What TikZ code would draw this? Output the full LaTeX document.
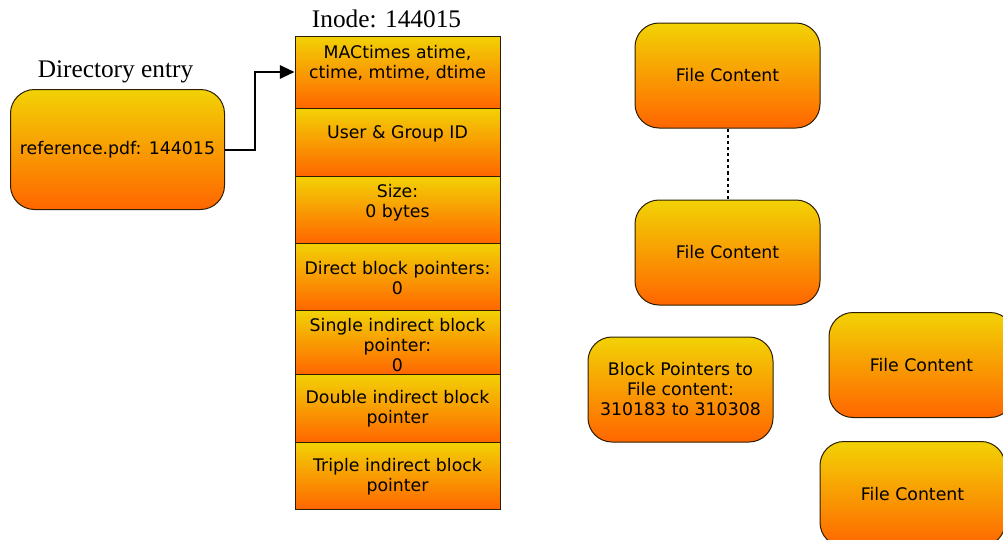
\documentclass[tikz,border=0pt]{standalone}
\usepackage{fontspec}
\setmainfont{DejaVu Sans}
\newfontfamily\serfam{Liberation Serif}
\usetikzlibrary{arrows.meta}
\definecolor{gtop}{RGB}{242,210,5}
\definecolor{gbot}{RGB}{255,102,0}
\definecolor{edgec}{RGB}{45,30,0}
\begin{document}
\begin{tikzpicture}[x=0.75pt,y=-0.75pt,
  box/.style={draw=edgec, line width=0.75pt, top color=gtop, bottom color=gbot,
    rounded corners=18pt, minimum width=138.75pt, minimum height=78.75pt,
    inner sep=0pt, align=center, font=\fontsize{13}{15}\selectfont},
  cell/.style={draw=edgec, line width=0.75pt, top color=gtop, bottom color=gbot,
    minimum width=153.75pt, inner sep=0pt},
  txt/.style={align=center, font=\fontsize{13}{15}\selectfont, inner sep=0pt},
  heading/.style={font=\serfam\fontsize{19}{22}\selectfont, inner sep=0pt, anchor=base},
  link/.style={line width=1.5pt, -{Triangle[length=11pt,width=10pt]}},
  dotlink/.style={line width=1.5pt, dash pattern=on 2.3pt off 2.3pt}]
\useasboundingbox (0,0) rectangle (1003,539);
\clip (0,0) rectangle (1003,539);

% directory entry
\node[heading] (dirlbl) at (115.5,77) {Directory entry};
\node[box, minimum width=160.5pt, minimum height=90pt] (dir) at (117.5,149.5) {reference.pdf: 144015};

% inode
\node[heading] (inolbl) at (386.5,27.3) {Inode: 144015};
\node[cell, minimum height=54pt]    (c1) at (397.5,72) {};
\node[cell, minimum height=51pt]    (c2) at (397.5,142) {};
\node[cell, minimum height=50.25pt] (c3) at (397.5,209.5) {};
\node[cell, minimum height=50.25pt] (c4) at (397.5,276.5) {};
\node[cell, minimum height=48pt]    (c5) at (397.5,342) {};
\node[cell, minimum height=51pt]    (c6) at (397.5,408) {};
\node[cell, minimum height=50.25pt] (c7) at (397.5,475.5) {};

\node[txt] (t1) at (397.5,63) {MACtimes atime,\\ctime, mtime, dtime};
\node[txt] (t2) at (397.5,134) {User \& Group ID};
\node[txt] (t3) at (397.5,203) {Size:\\0 bytes};
\node[txt] (t4) at (397.5,278) {Direct block pointers:\\0};
\node[txt] (t5) at (397.5,345) {Single indirect block\\pointer:\\0};
\node[txt] (t6) at (397.5,409) {Double indirect block\\pointer};
\node[txt] (t7) at (397.5,477) {Triple indirect block\\pointer};

\draw[link] (dir.east) -- ++(30,0) |- (c1.west);

% file content blocks
\node[box] (fc1) at (727.5,75.5) {File Content};
\node[box] (fc2) at (727.5,252.5) {File Content};
\node[box] (bp)  at (680.5,389.5) {Block Pointers to\\File content:\\310183 to 310308};
\node[box] (fc3) at (921.5,365) {File Content};
\node[box] (fc4) at (912.5,494) {File Content};

\draw[dotlink] (fc1.south) -- (fc2.north);
\end{tikzpicture}
\end{document}
